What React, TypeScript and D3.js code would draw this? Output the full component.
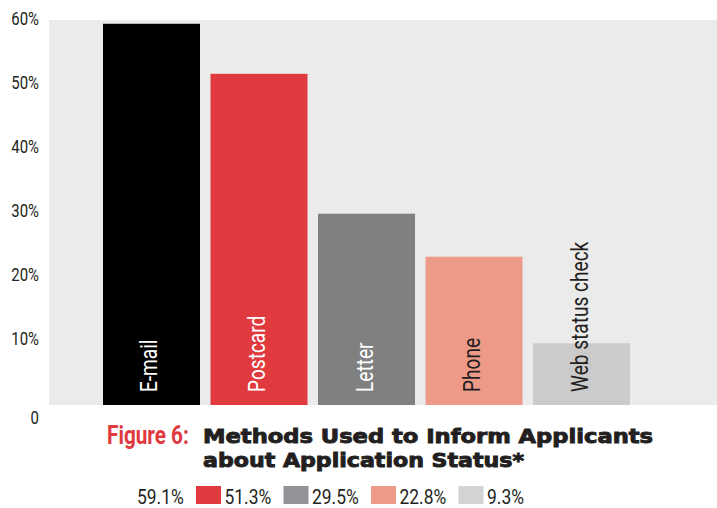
import React from "react";
import * as d3 from "d3";

// Survey results: how applicants are told about their application status
const categories: string[] = ["E-mail", "Postcard", "Letter", "Phone", "Web status check"];
const shares: number[] = [59.1, 51.3, 29.5, 22.8, 9.3];
const barColors: string[] = ["#000000", "#e03a3f", "#808080", "#ee9a89", "#cbcbcb"];
const legendColors: string[] = ["#000000", "#e03a3f", "#929497", "#ee9a89", "#d1d3d4"];
const labelColors: string[] = ["#ffffff", "#ffffff", "#ffffff", "#231f20", "#231f20"];
const yTicks: number[] = [10, 20, 30, 40, 50, 60];

const W = 717;
const H = 508;
const plotLeft = 49;
const plotRight = 717;
const plotTop = 20;
const plotBottom = 405;

const sans = "Roboto, 'Liberation Sans', sans-serif";
const squeeze = 0.83; // horizontal compression for a condensed look
const ink = "#231f20";

type NTProps = {
  x: number;
  y: number;
  rotate?: number;
  anchor?: "start" | "middle" | "end";
  size: number;
  fill: string;
  weight?: string | number;
  children: React.ReactNode;
};

// Text drawn with a condensed horizontal scale
function NarrowText({ x, y, rotate = 0, anchor = "start", size, fill, weight = "normal", children }: NTProps) {
  return (
    <text
      transform={`translate(${x},${y}) rotate(${rotate}) scale(${squeeze},1)`}
      textAnchor={anchor}
      fontFamily={sans}
      fontSize={size}
      fontWeight={weight}
      fill={fill}
    >
      {children}
    </text>
  );
}

export default function App() {
  const x = d3.scaleBand<string>().domain(categories).range([103, 630]).paddingInner(0.0977).paddingOuter(0);
  const y = d3.scaleLinear().domain([0, 60]).range([403, 18]);

  return (
    <svg
      width={W}
      height={H}
      viewBox={`0 0 ${W} ${H}`}
      style={{ position: "absolute", left: 0, top: 0, display: "block", background: "#fff" }}
    >
      <rect x={plotLeft} y={plotTop} width={plotRight - plotLeft} height={plotBottom - plotTop} fill="#ebebeb" />

      {/* y axis labels */}
      {yTicks.map((t) => (
        <NarrowText key={t} x={39} y={y(t) + 6.5} anchor="end" size={18} fill={ink}>
          {t}%
        </NarrowText>
      ))}
      <NarrowText x={39} y={424} anchor="end" size={18} fill={ink}>
        0
      </NarrowText>

      {/* bars */}
      {categories.map((c, i) => (
        <rect
          key={c}
          x={x(c)}
          y={y(shares[i])}
          width={x.bandwidth()}
          height={plotBottom - y(shares[i])}
          fill={barColors[i]}
        />
      ))}

      {/* rotated category names */}
      {categories.map((c, i) => (
        <NarrowText
          key={c}
          x={(x(c) as number) + x.bandwidth() / 2 + 6}
          y={392}
          rotate={-90}
          size={23}
          fill={labelColors[i]}
        >
          {c}
        </NarrowText>
      ))}

      {/* title */}
      <NarrowText x={107} y={444} size={25} weight="bold" fill="#e03a3f">
        Figure 6:
      </NarrowText>
      <text
        x={203}
        y={443}
        fontFamily="'DejaVu Sans', sans-serif"
        fontWeight="bold"
        fontSize={19}
        fill={ink}
        stroke={ink}
        strokeWidth={0.9}
        textLength={450}
        lengthAdjust="spacingAndGlyphs"
      >
        Methods Used to Inform Applicants
      </text>
      <text
        x={203}
        y={467}
        fontFamily="'DejaVu Sans', sans-serif"
        fontWeight="bold"
        fontSize={19}
        fill={ink}
        stroke={ink}
        strokeWidth={0.9}
        textLength={321}
        lengthAdjust="spacingAndGlyphs"
      >
        about Application Status*
      </text>

      {/* legend */}
      {shares.map((v, i) => {
        const sx = 108.5 + 87.5 * i;
        return (
          <g key={i}>
            {i > 0 && <rect x={sx} y={486} width={25} height={18} fill={legendColors[i]} />}
            <NarrowText x={sx + 28.5} y={504} size={21} fill={ink}>
              {v.toFixed(1)}%
            </NarrowText>
          </g>
        );
      })}
    </svg>
  );
}
